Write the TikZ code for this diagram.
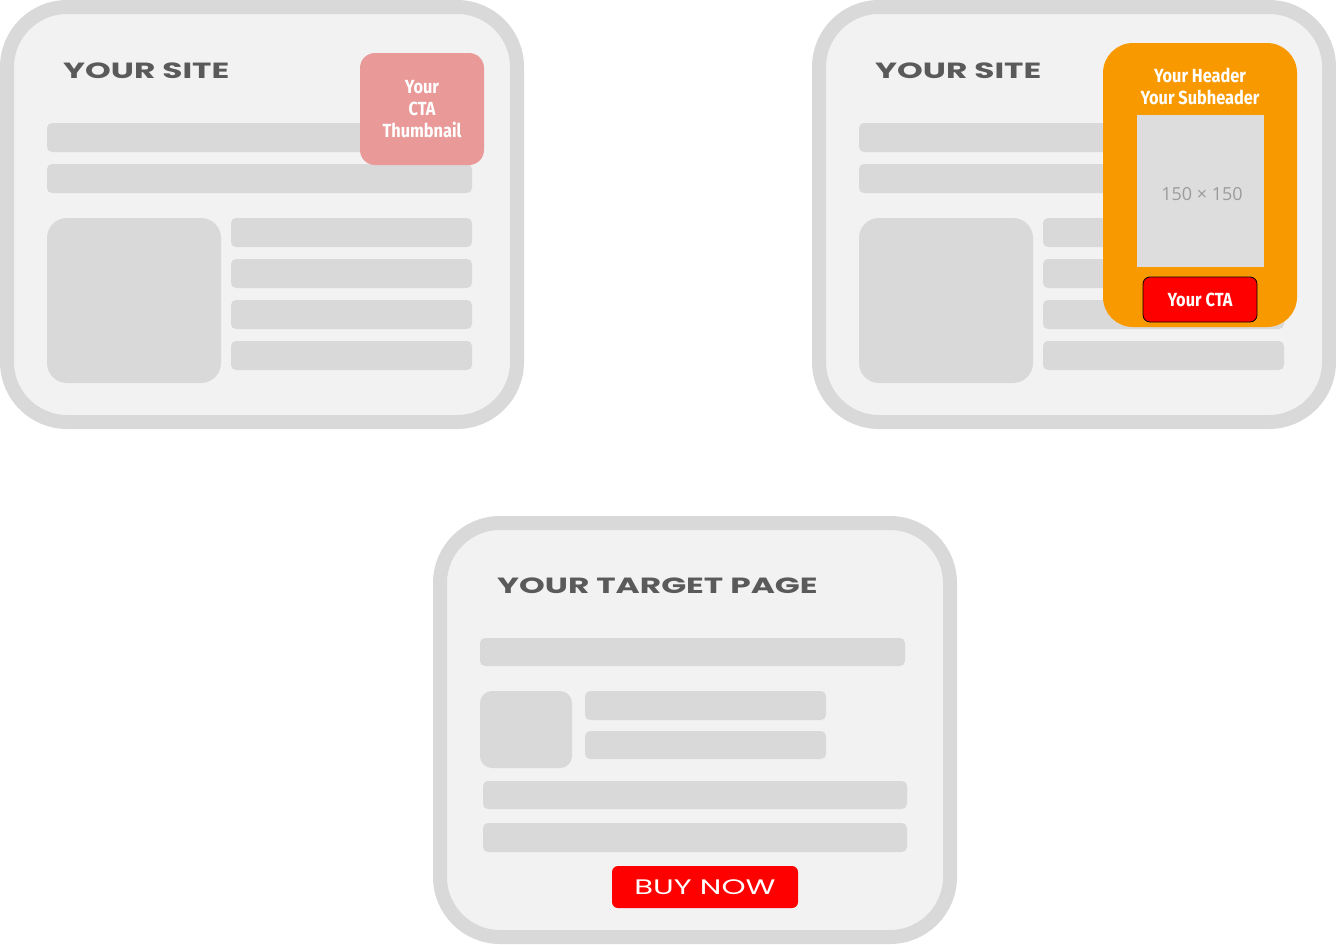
\documentclass[tikz,border=0pt]{standalone}
\usepackage{fontspec}
\newfontfamily\titlefont[FakeStretch=1.49,BoldFeatures={FakeStretch=1.49}]{Poppins}
\newfontfamily\buyfont[FakeStretch=1.46]{Poppins}
\newfontfamily\condfont[FakeStretch=0.86,BoldFeatures={FakeStretch=0.86}]{Fira Sans}
\newfontfamily\plainfont{Open Sans}
\definecolor{cardfill}{HTML}{F2F2F2}
\definecolor{cardline}{HTML}{D9D9D9}
\definecolor{barc}{HTML}{D9D9D9}
\definecolor{titlec}{HTML}{5A5A5A}
\definecolor{thumbc}{HTML}{EA9999}
\definecolor{orangec}{HTML}{F99900}
\definecolor{imgc}{HTML}{DDDDDD}
\definecolor{imgtext}{HTML}{9C9C9C}
\tikzset{
  card/.style={draw=cardline, fill=cardfill, line width=14pt, rounded corners=60pt},
  bar/.style={fill=barc, rounded corners=5pt},
  bigsq/.style={fill=barc, rounded corners=20pt},
  title/.style={anchor=base west, inner sep=0pt, text=titlec, font=\titlefont\bfseries\fontsize{22}{22}\selectfont},
  condtext/.style={text=white, align=center, inner sep=0pt, font=\condfont\bfseries\fontsize{19}{22}\selectfont},
}
\begin{document}
\begin{tikzpicture}[x=1pt,y=-1pt]
\useasboundingbox (0,0) rectangle (1336,945);
% ---------- top-left card
\draw[card] (7,7) rectangle (517,422);
\node[title] (t1) at (63,78) {YOUR SITE};
\fill[bar] (47,123) rectangle (472,152);
\fill[bar] (47,164) rectangle (472,193);
\fill[bigsq] (47,218) rectangle (221,383);
\fill[bar] (231,218) rectangle (472,247);
\fill[bar] (231,259) rectangle (472,288);
\fill[bar] (231,300) rectangle (472,329);
\fill[bar] (231,341) rectangle (472,370);
\fill[thumbc, rounded corners=15pt] (360,53) rectangle (484,165);
\node[condtext] (thumb) at (422,109) {Your\\CTA\\Thumbnail};
% ---------- top-right card
\draw[card] (819,7) rectangle (1329,422);
\node[title] (t2) at (875,78) {YOUR SITE};
\fill[bar] (859,123) rectangle (1284,152);
\fill[bar] (859,164) rectangle (1284,193);
\fill[bigsq] (859,218) rectangle (1033,383);
\fill[bar] (1043,218) rectangle (1284,247);
\fill[bar] (1043,259) rectangle (1284,288);
\fill[bar] (1043,300) rectangle (1284,329);
\fill[bar] (1043,341) rectangle (1284,370);
\fill[orangec, rounded corners=30pt] (1103,43) rectangle (1297,327);
\node[condtext] (hdr) at (1200,86) {Your Header\\Your Subheader};
\fill[imgc] (1137,115) rectangle (1264,267);
\node[text=imgtext, inner sep=0pt, font=\plainfont\fontsize{18}{18}\selectfont] (img) at (1202,194) {150 × 150};
\draw[fill=red, draw=black, line width=0.8pt, rounded corners=7pt] (1143,277) rectangle (1257,322);
\node[condtext] (cta) at (1200,300) {Your CTA};
% ---------- bottom card
\draw[card] (440,523) rectangle (950,937);
\node[title] (t3) at (497,593) {YOUR TARGET PAGE};
\fill[bar] (480,638) rectangle (905,666);
\fill[barc, rounded corners=12pt] (480,691) rectangle (572,768);
\fill[bar] (585,691) rectangle (826,720);
\fill[bar] (585,731) rectangle (826,759);
\fill[bar] (483,781) rectangle (907,809);
\fill[bar] (483,823) rectangle (907,852);
\fill[red, rounded corners=6pt] (612,866) rectangle (798,908);
\node[text=white, inner sep=0pt, font=\buyfont\fontsize{21}{21}\selectfont] (buy) at (705,887) {BUY NOW};
\end{tikzpicture}
\end{document}
